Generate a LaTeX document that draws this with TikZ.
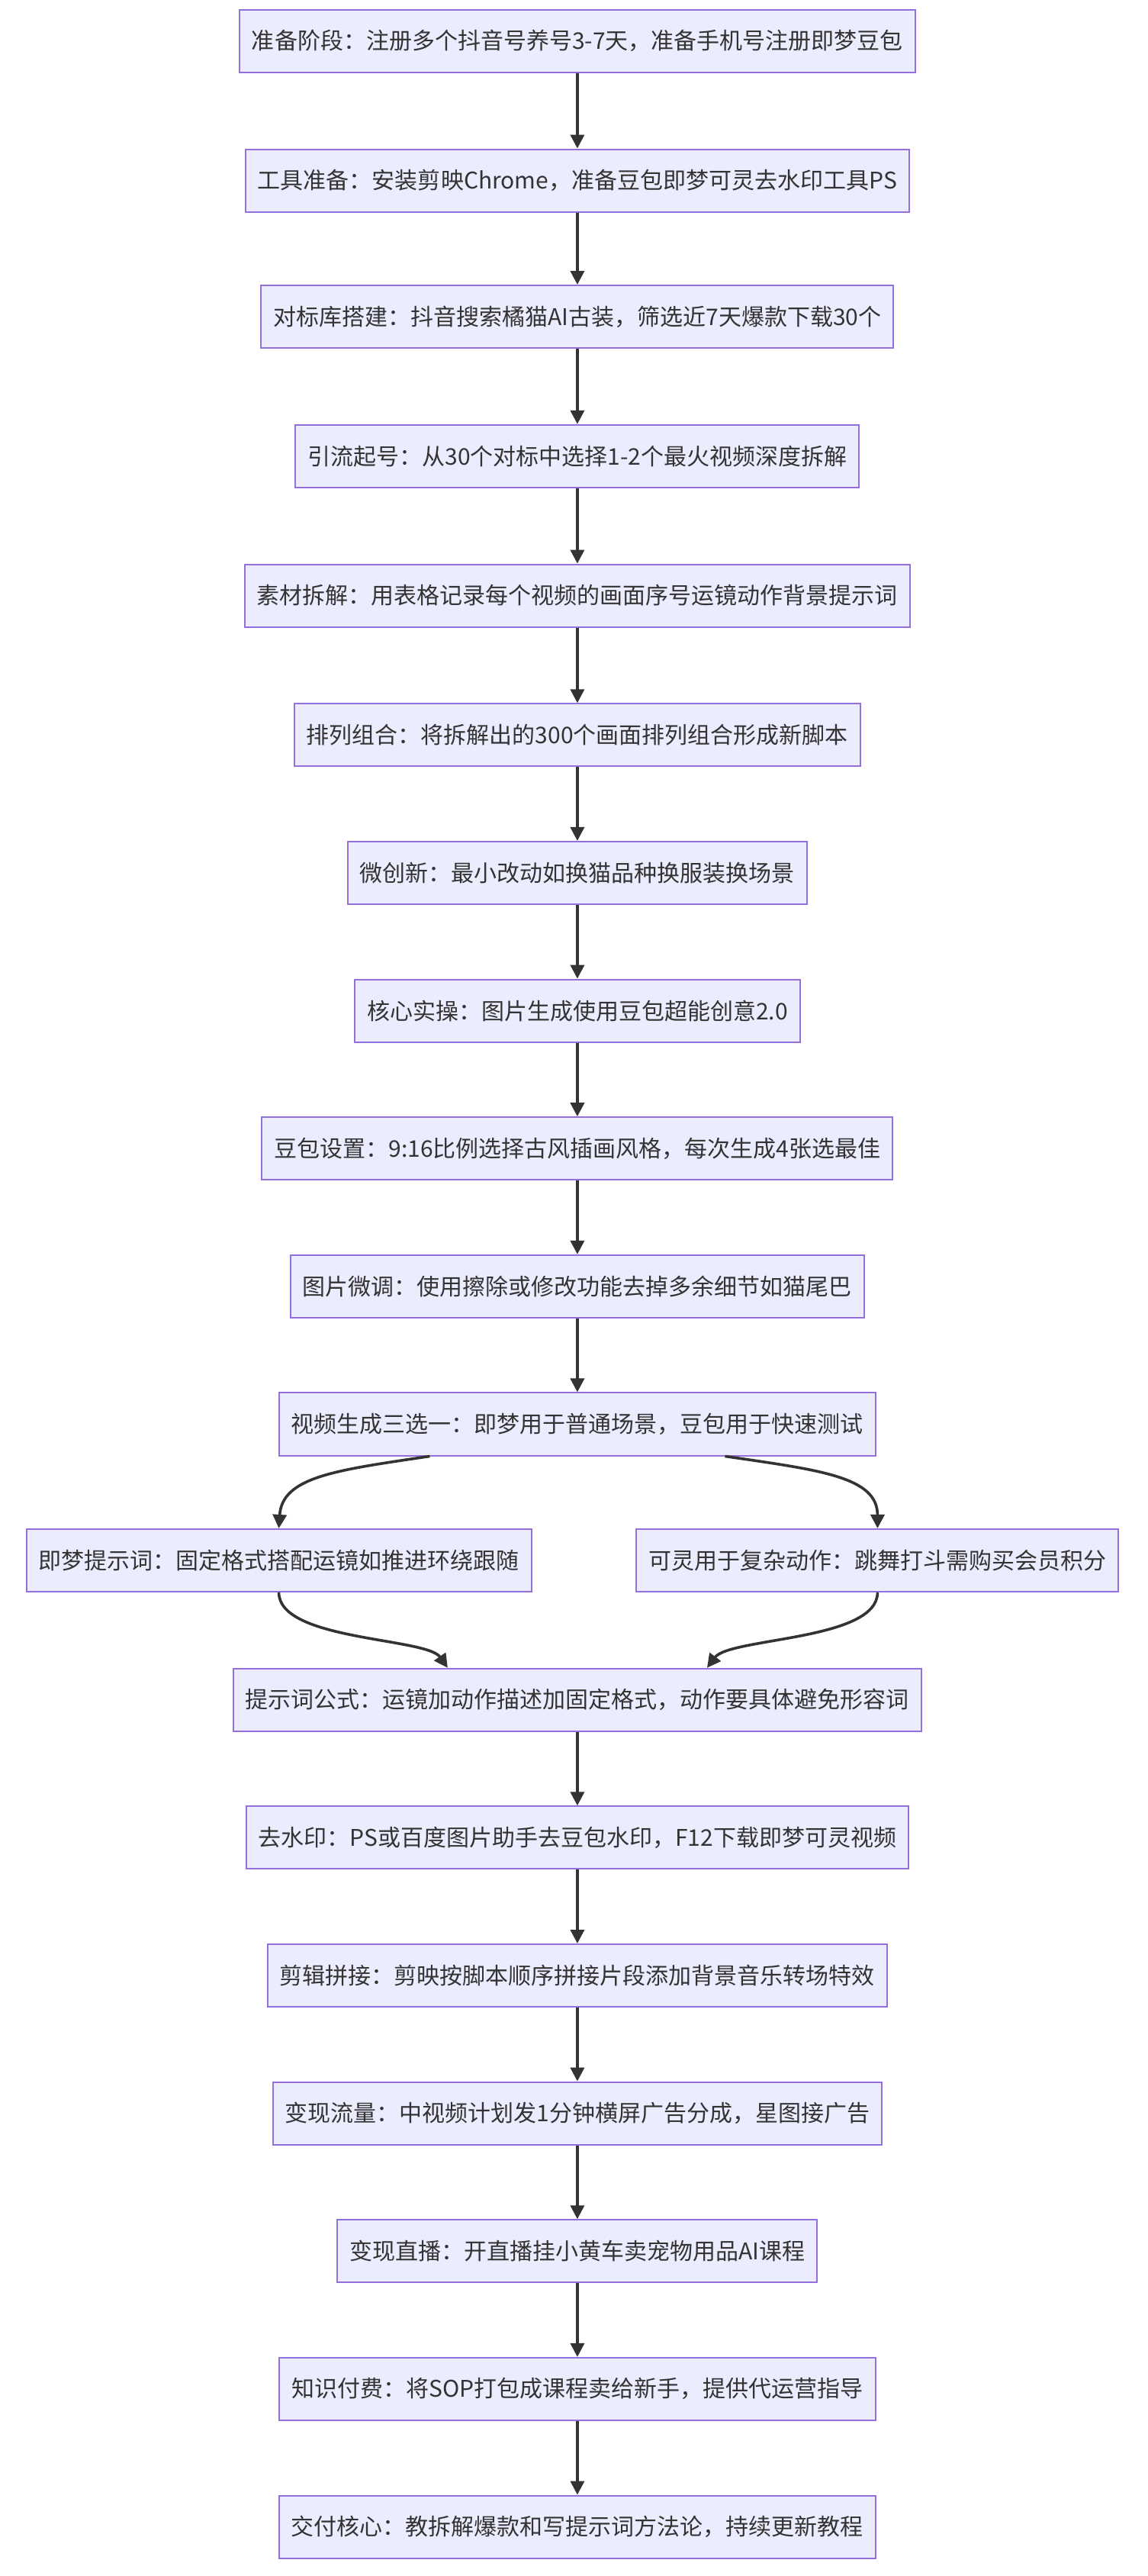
\documentclass[tikz,border=0pt]{standalone}
\usepackage{fontspec}
\setmainfont{Noto Sans CJK SC}
\usetikzlibrary{arrows.meta}
\begin{document}
\begin{tikzpicture}[x=1.075pt,y=-1.075pt,
  box/.style={draw=mmstroke,fill=mmfill,line width=1pt,minimum height=41pt,inner xsep=8pt,font=\fontsize{15}{18}\selectfont,text=mmtext},
  arr/.style={draw=mmline,line width=1.8pt,-{Triangle[length=9pt,width=9pt]}}]
\definecolor{mmfill}{HTML}{ECECFF}
\definecolor{mmstroke}{HTML}{9370DB}
\definecolor{mmline}{HTML}{333333}
\definecolor{mmtext}{HTML}{333333}
\useasboundingbox[fill=white] (0,0) rectangle (699.5,1570);
\node[box] (n1) at (352,25) {准备阶段：注册多个抖音号养号3-7天，准备手机号注册即梦豆包};
\node[box] (n2) at (352,110) {工具准备：安装剪映Chrome，准备豆包即梦可灵去水印工具PS};
\node[box] (n3) at (352,193) {对标库搭建：抖音搜索橘猫AI古装，筛选近7天爆款下载30个};
\node[box] (n4) at (352,278) {引流起号：从30个对标中选择1-2个最火视频深度拆解};
\node[box] (n5) at (352,363) {素材拆解：用表格记录每个视频的画面序号运镜动作背景提示词};
\node[box] (n6) at (352,448) {排列组合：将拆解出的300个画面排列组合形成新脚本};
\node[box] (n7) at (352,532) {微创新：最小改动如换猫品种换服装换场景};
\node[box] (n8) at (352,616) {核心实操：图片生成使用豆包超能创意2.0};
\node[box] (n9) at (352,700) {豆包设置：9:16比例选择古风插画风格，每次生成4张选最佳};
\node[box] (n10) at (352,784) {图片微调：使用擦除或修改功能去掉多余细节如猫尾巴};
\node[box] (n11) at (352,868) {视频生成三选一：即梦用于普通场景，豆包用于快速测试};
\node[box] (l) at (170,951) {即梦提示词：固定格式搭配运镜如推进环绕跟随};
\node[box] (r) at (535,951) {可灵用于复杂动作：跳舞打斗需购买会员积分};
\node[box] (n12) at (352,1036) {提示词公式：运镜加动作描述加固定格式，动作要具体避免形容词};
\node[box] (n13) at (352,1120) {去水印：PS或百度图片助手去豆包水印，F12下载即梦可灵视频};
\node[box] (n14) at (352,1204) {剪辑拼接：剪映按脚本顺序拼接片段添加背景音乐转场特效};
\node[box] (n15) at (352,1288) {变现流量：中视频计划发1分钟横屏广告分成，星图接广告};
\node[box] (n16) at (352,1372) {变现直播：开直播挂小黄车卖宠物用品AI课程};
\node[box] (n17) at (352,1456) {知识付费：将SOP打包成课程卖给新手，提供代运营指导};
\node[box] (n18) at (352,1540) {交付核心：教拆解爆款和写提示词方法论，持续更新教程};
\foreach \a/\b in {n1/n2,n2/n3,n3/n4,n4/n5,n5/n6,n6/n7,n7/n8,n8/n9,n9/n10,n10/n11,n12/n13,n13/n14,n14/n15,n15/n16,n16/n17,n17/n18}
  \draw[arr] (\a) -- (\b);
\draw[arr] (n11.south) ++(-90,0) coordinate (s1) (s1) .. controls (205,896) and (172,900) .. (l.north);
\draw[arr] (n11.south) ++(90,0) coordinate (s2) (s2) .. controls (500,896) and (535,900) .. (r.north);
\draw[arr] (l.south) .. controls (170,1000) and (260,998) .. ([xshift=-85]n12.north);
\draw[arr] (r.south) .. controls (535,1000) and (445,998) .. ([xshift=85]n12.north);
\end{tikzpicture}
\end{document}
